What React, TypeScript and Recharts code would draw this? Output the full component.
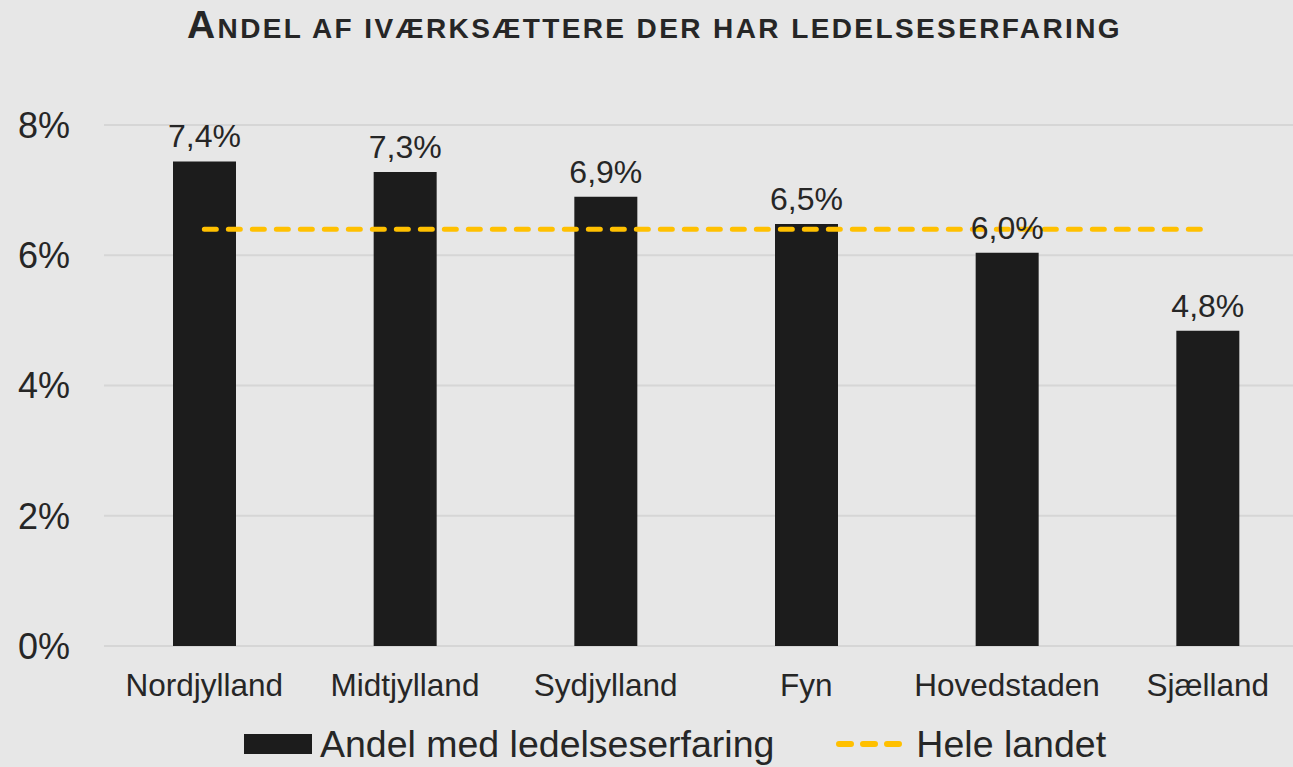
import React from "react";
import {
  ComposedChart,
  Bar,
  Line,
  XAxis,
  YAxis,
  CartesianGrid,
  Legend,
  LabelList,
} from "recharts";

const regions = ["Nordjylland", "Midtjylland", "Sydjylland", "Fyn", "Hovedstaden", "Sjælland"];
const shareWithManagement = [7.44, 7.28, 6.9, 6.48, 6.04, 4.84];
const wholeCountry = [6.4, 6.4, 6.4, 6.4, 6.4, 6.4];
const yTicks = [0, 2, 4, 6, 8];

const BAR_COLOR = "#1c1c1c";
const LINE_COLOR = "#ffc000";
const TEXT_COLOR = "#262626";
const FONT = "'Liberation Sans', Arial, sans-serif";

const data = regions.map((name, i) => ({
  name,
  andel: shareWithManagement[i],
  hele: wholeCountry[i],
}));

const fmtPct = (v: number) => `${v.toFixed(1).replace(".", ",")}%`;

function LegendContent() {
  return (
    <div
      style={{
        height: 46,
        display: "flex",
        alignItems: "center",
        justifyContent: "center",
        fontFamily: FONT,
        fontSize: 37.5,
        color: TEXT_COLOR,
        paddingLeft: 42,
      }}
    >
      <svg width={70} height={22} style={{ marginRight: 6 }}>
        <rect x={0} y={1} width={68} height={20} fill={BAR_COLOR} />
      </svg>
      <span>Andel med ledelseserfaring</span>
      <svg width={68} height={10} style={{ marginLeft: 62, marginRight: 12 }}>
        <line
          x1={3}
          y1={5}
          x2={66}
          y2={5}
          stroke={LINE_COLOR}
          strokeWidth={6}
          strokeLinecap="round"
          strokeDasharray="12 12"
        />
      </svg>
      <span>Hele landet</span>
    </div>
  );
}

export default function App() {
  return (
    <div
      style={{
        position: "absolute",
        left: 0,
        top: 0,
        width: 1293,
        height: 767,
        background: "#e7e7e7",
        overflow: "hidden",
      }}
    >
      <div
        style={{
          position: "absolute",
          top: 3,
          left: 8,
          width: 1293,
          textAlign: "center",
          fontFamily: FONT,
          fontWeight: "bold",
          color: TEXT_COLOR,
          whiteSpace: "nowrap",
          letterSpacing: 2.4,
        }}
      >
        <span style={{ fontSize: 39 }}>A</span>
        <span style={{ fontSize: 28 }}>NDEL AF IVÆRKSÆTTERE DER HAR LEDELSESERFARING</span>
      </div>
      <ComposedChart
        width={1293}
        height={767}
        data={data}
        margin={{ top: 125, right: -15, left: 0, bottom: 0 }}
        barCategoryGap={0}
      >
        <CartesianGrid vertical={false} stroke="#d6d6d6" strokeWidth={2} />
        <XAxis
          dataKey="name"
          axisLine={false}
          tickLine={false}
          height={75}
          tickMargin={22}
          tick={{ fill: TEXT_COLOR, fontSize: 31.5, fontFamily: FONT }}
        />
        <YAxis
          width={104}
          domain={[0, 8]}
          ticks={yTicks}
          axisLine={false}
          tickLine={false}
          tickMargin={28}
          tickFormatter={(v: number) => `${v}%`}
          tick={{ fill: TEXT_COLOR, fontSize: 36, fontFamily: FONT }}
        />
        <Legend verticalAlign="bottom" content={<LegendContent />} />
        <Bar dataKey="andel" fill={BAR_COLOR} barSize={63} isAnimationActive={false}>
          <LabelList
            dataKey="andel"
            position="top"
            offset={14}
            formatter={(v: number) => fmtPct(v)}
            fill={TEXT_COLOR}
            fontSize={32}
            fontFamily={FONT}
          />
        </Bar>
        <Line
          dataKey="hele"
          stroke={LINE_COLOR}
          strokeWidth={5}
          strokeDasharray="12 12"
          strokeLinecap="round"
          dot={false}
          activeDot={false}
          isAnimationActive={false}
        />
      </ComposedChart>
    </div>
  );
}
